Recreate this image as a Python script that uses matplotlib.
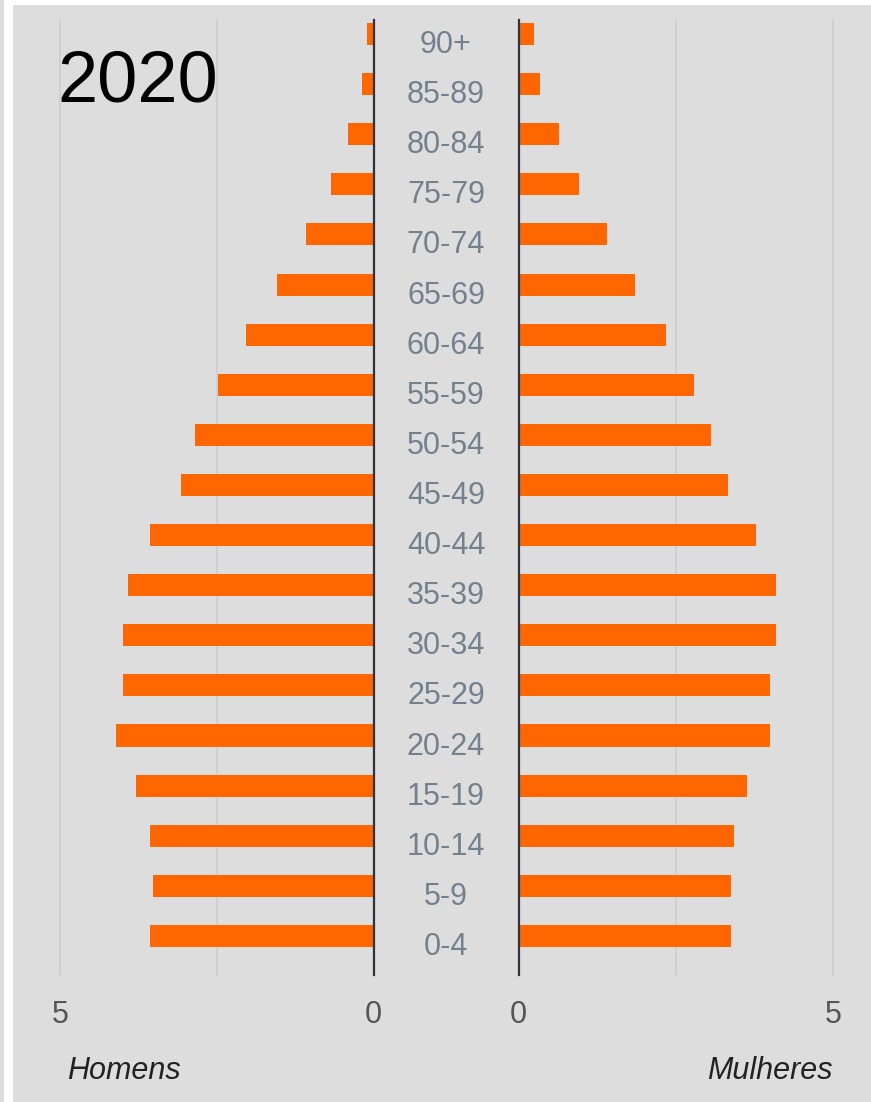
import matplotlib.pyplot as plt
from matplotlib.patches import Rectangle
import numpy as np

plt.rcParams['font.family'] = ['Liberation Sans', 'DejaVu Sans']

# faixas etarias, de baixo para cima
ages = ['0-4', '5-9', '10-14', '15-19', '20-24', '25-29', '30-34', '35-39', '40-44',
        '45-49', '50-54', '55-59', '60-64', '65-69', '70-74', '75-79', '80-84', '85-89', '90+']
homens = [3.56, 3.51, 3.56, 3.78, 4.10, 4.00, 4.00, 3.91, 3.56,
          3.07, 2.85, 2.48, 2.03, 1.54, 1.08, 0.68, 0.41, 0.18, 0.10]
mulheres = [3.38, 3.38, 3.42, 3.64, 4.00, 4.00, 4.09, 4.09, 3.77,
            3.33, 3.06, 2.79, 2.34, 1.85, 1.41, 0.96, 0.65, 0.34, 0.25]
ticks_left = [5, 0]
ticks_right = [0, 5]
year = '2020'

W, H = 871, 1102
fig = plt.figure(figsize=(W / 100, H / 100), dpi=100, facecolor='white')
bg = '#dddddd'
fig.patches.append(Rectangle((13 / W, 0), 1 - 13 / W, 1 - 5 / H, transform=fig.transFigure,
                             facecolor=bg, edgecolor='none', zorder=-5))
fig.patches.append(Rectangle((0, 0), 4 / W, 1, transform=fig.transFigure,
                             facecolor=bg, edgecolor='none', zorder=-5))

def box(x0, x1, y0=20, y1=975):
    return [x0 / W, 1 - y1 / H, (x1 - x0) / W, (y1 - y0) / H]

y = np.arange(len(ages))
ylim = (-0.78, 18.28)
bar_col = '#ff6600'
grid_col = '#cecece'
axis_col = '#30303f'
tick_col = '#555555'

axl = fig.add_axes(box(60, 373.5))
axr = fig.add_axes(box(518.5, 833))
axm = fig.add_axes(box(373.5, 518.5))

for ax, vals, lim, ticks in [(axl, homens, (5, 0), ticks_left),
                             (axr, mulheres, (0, 5), ticks_right)]:
    ax.set_facecolor('none')
    ax.set_xlim(lim)
    ax.set_ylim(ylim)
    for g in [2.5, 5]:
        ax.axvline(g, color=grid_col, lw=1.2, zorder=1, clip_on=False)
    ax.barh(y, vals, height=0.44, color=bar_col, zorder=2)
    ax.axvline(0, color=axis_col, lw=1.6, zorder=3, clip_on=False)
    ax.set_xticks(ticks)
    ax.set_xticklabels([str(t) for t in ticks], fontsize=22, color=tick_col)
    ax.tick_params(axis='x', length=0, pad=18)
    ax.set_yticks([])
    for s in ax.spines.values():
        s.set_visible(False)

axm.set_xlim(0, 1)
axm.set_ylim(ylim)
axm.axis('off')
for i, a in enumerate(ages):
    axm.text(0.5, y[i] - 0.22, a, ha='center', va='center', fontsize=22, color='#73808d')

fig.text(57 / W, 1 - 102 / H, year, fontsize=52, color='black', ha='left', va='baseline')
fig.text(67 / W, 1 - 1071 / H, 'Homens', fontsize=22, style='italic', color='#222222',
         ha='left', va='center')
fig.text(833 / W, 1 - 1071 / H, 'Mulheres', fontsize=22, style='italic', color='#222222',
         ha='right', va='center')

plt.savefig('out.png', dpi=100, facecolor=fig.get_facecolor())
